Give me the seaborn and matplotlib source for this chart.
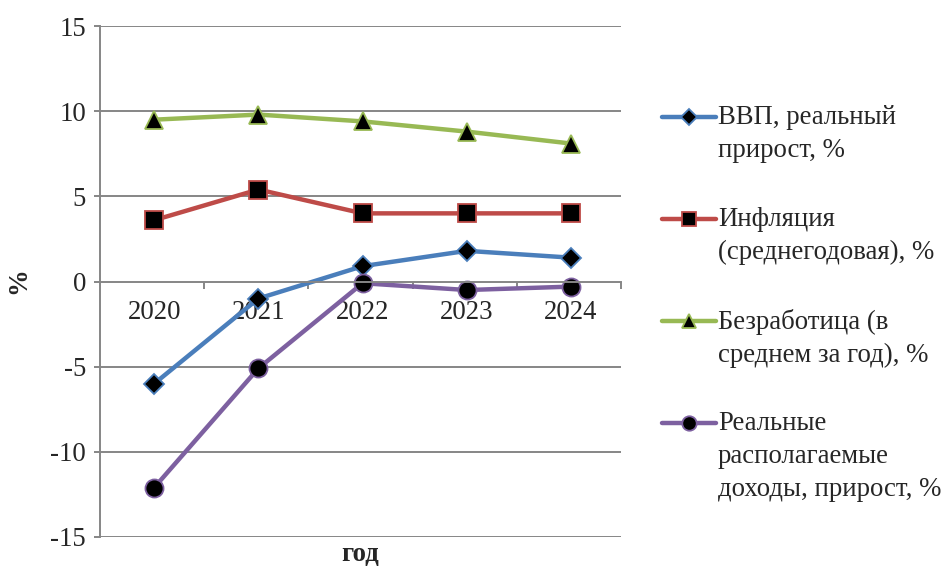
import matplotlib
matplotlib.use("Agg")
import matplotlib.pyplot as plt
from matplotlib.lines import Line2D
import seaborn as sns
import pandas as pd

years = ["2020", "2021", "2022", "2023", "2024"]
gdp = [-6.0, -1.0, 0.9, 1.8, 1.4]
inflation = [3.6, 5.4, 4.0, 4.0, 4.0]
unemployment = [9.5, 9.8, 9.4, 8.8, 8.1]
real_income = [-12.1, -5.1, -0.1, -0.5, -0.3]

series_names = [
    "ВВП, реальный\nприрост, %",
    "Инфляция\n(среднегодовая), %",
    "Безработица (в\nсреднем за год), %",
    "Реальные\nрасполагаемые\nдоходы, прирост, %",
]
series_values = [gdp, inflation, unemployment, real_income]
colors = ["#4A7EBB", "#BE4B48", "#98B954", "#7D60A0"]
markers = ["D", "s", "^", "o"]
marker_sizes = [10, 13, 13, 13]

sns.set_theme(style="white")
plt.rcParams["font.family"] = ["Liberation Serif", "DejaVu Serif"]
plt.rcParams["axes.unicode_minus"] = False

FS = 19.3

fig = plt.figure(figsize=(9.47, 5.67), dpi=100)
ax = fig.add_axes([100 / 947, 1 - 537 / 567, 521 / 947, 511 / 567])

for name, vals, c, m, ms in zip(series_names, series_values, colors, markers, marker_sizes):
    df = pd.DataFrame({"pos": range(len(years)), "value": vals})
    sns.lineplot(data=df, x="pos", y="value", ax=ax, color=c, linewidth=3.2,
                 marker=m, markersize=ms, markerfacecolor="black",
                 markeredgecolor=c, markeredgewidth=1.3, legend=False)

grid_c = "#868686"
ax.set_ylim(-15, 15)
ax.set_xlim(-0.52, 4.48)
ax.set_yticks(range(-15, 16, 5))
ax.set_yticklabels([str(v) for v in range(-15, 16, 5)], fontsize=FS)
for v in range(-15, 16, 5):
    if v != 0:
        ax.axhline(v, color=grid_c, linewidth=1.4, zorder=0)

ax.spines["top"].set_visible(False)
ax.spines["right"].set_visible(False)
ax.spines["bottom"].set_position(("data", 0))
for s in ("left", "bottom"):
    ax.spines[s].set_color(grid_c)
    ax.spines[s].set_linewidth(1.4)

ax.set_xticks(range(len(years)))
ax.set_xticklabels(years, fontsize=FS)
ax.set_xticks([0.48, 1.48, 2.48, 3.48, 4.48], minor=True)
ax.tick_params(axis="x", which="major", length=0, pad=13)
ax.tick_params(axis="x", which="minor", length=5, color=grid_c, width=1.4, direction="out", bottom=True)
ax.tick_params(axis="y", length=4, color=grid_c, width=1.4, direction="out", left=True, pad=6)

ax.set_xlabel("")
ax.set_ylabel("")
fig.text(360 / 947, 1 - 555 / 567, "год", fontsize=FS, fontweight="bold",
         ha="center", va="center")
fig.text(19 / 947, 1 - 281 / 567, "%", fontsize=FS, fontweight="bold",
         ha="center", va="center", rotation=90)

# legend: handle aligned with the first text line of each entry
entry_y = [117, 219, 321, 423]
for name, c, m, ms, y in zip(series_names, colors, markers, marker_sizes, entry_y):
    yf = 1 - y / 567
    fig.add_artist(Line2D([662 / 947, 716 / 947], [yf, yf], transform=fig.transFigure,
                          color=c, linewidth=3.2))
    fig.add_artist(Line2D([689 / 947], [yf], transform=fig.transFigure, marker=m,
                          markersize=ms * 0.8, markerfacecolor="black",
                          markeredgecolor=c, markeredgewidth=1.3, linestyle="none"))
    fig.text(718 / 947, yf + 12 / 567, name, fontsize=FS, ha="left", va="top",
             linespacing=1.42)

fig.savefig("out.png", dpi=100)
